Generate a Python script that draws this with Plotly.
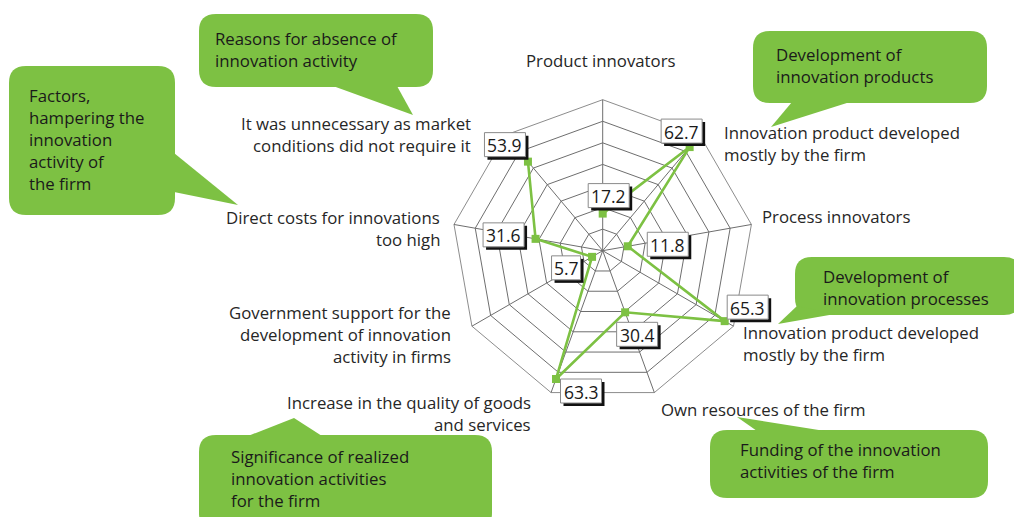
import plotly.graph_objects as go
import math

# ---------------- data ----------------
axis_labels = [
    "Product innovators",
    "Innovation product developed\nmostly by the firm",
    "Process innovators",
    "Innovation product developed\nmostly by the firm",
    "Own resources of the firm",
    "Increase in the quality of goods\nand services",
    "Government support for the\ndevelopment of innovation\nactivity in firms",
    "Direct costs for innovations\ntoo high",
    "It was unnecessary as market\nconditions did not require it",
]
values = [17.2, 62.7, 11.8, 65.3, 30.4, 63.3, 5.7, 31.6, 53.9]
radial_ticks = [10, 20, 30, 40, 50, 60, 70]
bubble_texts = [
    "Reasons for absence of\ninnovation activity",
    "Factors,\nhampering the\ninnovation\nactivity of\nthe firm",
    "Development of\ninnovation products",
    "Development of\ninnovation processes",
    "Funding of the innovation\nactivities of the firm",
    "Significance of realized\ninnovation activities\nfor the firm",
]

# ---------------- layout constants (page pixels) ----------------
PAGE_W, PAGE_H = 1022, 517
OFF = 8                      # default body margin of the html page
W, H = PAGE_W - OFF, PAGE_H - OFF
CX, CY, R = 602.7, 250.7, 151.0
RMAX = 70
GREEN = "#7DC143"
TXT = "#262626"
FONT = "Open Sans"
FS = 16.8
LH = 22

keys = [f"k{i}" for i in range(len(values))]
step = 360.0 / len(values)

fig = go.Figure()

# invisible helper trace for a pixel coordinate system
fig.add_trace(go.Scatter(x=[OFF, PAGE_W], y=[OFF, PAGE_H], mode="markers",
                         marker=dict(opacity=0), hoverinfo="skip",
                         showlegend=False))

fig.add_trace(go.Scatterpolar(
    r=values, theta=keys, mode="lines+markers",
    line=dict(color=GREEN, width=2.6),
    marker=dict(symbol="square", size=8, color=GREEN),
    showlegend=False, hoverinfo="skip",
))

shapes = []
annotations = []


def text_lines(text, x, y, anchor, size=FS, color=TXT):
    for j, line in enumerate(text.split("\n")):
        annotations.append(dict(
            x=x, y=y + j * LH, xref="x", yref="y", text=line,
            showarrow=False, xanchor=anchor, yanchor="middle",
            font=dict(family=FONT, size=size, color=color)))


# axis label placement (anchor pixel, alignment)
label_pos = [
    (601, 60, "center"),
    (722, 132, "left"),
    (760, 216, "left"),
    (741, 332, "left"),
    (659, 409, "left"),
    (533, 402, "right"),
    (453, 312, "right"),
    (442, 217, "right"),
    (473, 123, "right"),
]
for lab, (x, y, a) in zip(axis_labels, label_pos):
    text_lines(lab, x, y, a)

# value boxes, placed from the polar geometry plus a pixel offset
label_offsets = [(6, -18), (-8, -16), (40, -2), (23, -14), (12, 22),
                 (25, 12), (-26, 11), (-32, -4), (-23, -17)]
for i, v in enumerate(values):
    a = math.radians(i * step)
    rr = v / RMAX * R
    px = CX + rr * math.sin(a)
    py = CY - rr * math.cos(a)
    dx, dy = label_offsets[i]
    bx, by = px + dx, py + dy
    s = f"{v:.1f}"
    bw = 41 if len(s) > 3 else 29
    bh = 24
    shapes.append(dict(type="rect", xref="x", yref="y",
                       x0=bx - bw / 2 + 3, x1=bx + bw / 2 + 3,
                       y0=by - bh / 2 + 3, y1=by + bh / 2 + 3,
                       fillcolor="#111111", line=dict(width=0), layer="above"))
    shapes.append(dict(type="rect", xref="x", yref="y",
                       x0=bx - bw / 2, x1=bx + bw / 2,
                       y0=by - bh / 2, y1=by + bh / 2,
                       fillcolor="white", line=dict(color="#8a8a8a", width=1),
                       layer="above"))
    annotations.append(dict(x=bx, y=by + 0.5, xref="x", yref="y", text=s,
                            showarrow=False, xanchor="center", yanchor="middle",
                            font=dict(family=FONT, size=17.5, color="#1a1a1a")))


def rrect(x0, y0, x1, y1, r):
    return (f"M{x0 + r},{y0} L{x1 - r},{y0} Q{x1},{y0} {x1},{y0 + r} "
            f"L{x1},{y1 - r} Q{x1},{y1} {x1 - r},{y1} L{x0 + r},{y1} "
            f"Q{x0},{y1} {x0},{y1 - r} L{x0},{y0 + r} Q{x0},{y0} {x0 + r},{y0} Z")


bubbles = [
    ((199, 14, 433, 87), [(333, 86), (397, 86), (413, 115)], (213, 38)),
    ((9, 66, 175, 215), [(174, 153), (174, 192), (238, 205)], (27, 95)),
    ((753, 31, 987, 103), [(792, 102), (850, 102), (771, 127)], (774, 54)),
    ((795, 257, 1021, 315), [(778, 324), (797, 306), (835, 314)], (821, 276)),
    ((710, 430, 988, 498), [(757, 431), (825, 431), (737, 417)], (738, 449)),
    ((199, 435, 492, 530), [(248, 436), (322, 436), (294, 418)], (229, 456)),
]
for (box, tail, tpos), txt in zip(bubbles, bubble_texts):
    shapes.append(dict(type="path", xref="x", yref="y",
                       path=rrect(*box, 17), fillcolor=GREEN,
                       line=dict(width=0), layer="below"))
    tp = "M" + " L".join(f"{x},{y}" for x, y in tail) + " Z"
    shapes.append(dict(type="path", xref="x", yref="y", path=tp,
                       fillcolor=GREEN, line=dict(width=0), layer="below"))
    text_lines(txt, tpos[0], tpos[1], "left", color="#1a1a1a")

fig.update_layout(
    width=W, height=H,
    margin=dict(l=0, r=0, t=0, b=0),
    paper_bgcolor="white", plot_bgcolor="white",
    showlegend=False,
    xaxis=dict(range=[OFF, PAGE_W], visible=False, domain=[0, 1], fixedrange=True),
    yaxis=dict(range=[PAGE_H, OFF], visible=False, domain=[0, 1], fixedrange=True),
    polar=dict(
        domain=dict(x=[(CX - R - OFF) / W, (CX + R - OFF) / W],
                    y=[(PAGE_H - CY - R) / H, (PAGE_H - CY + R) / H]),
        bgcolor="rgba(0,0,0,0)",
        gridshape="linear",
        radialaxis=dict(range=[0, RMAX], tickvals=radial_ticks,
                        showticklabels=False, ticks="", showline=False,
                        gridcolor="#6e6e6e", gridwidth=0.8),
        angularaxis=dict(type="category", categoryorder="array",
                         categoryarray=keys, direction="clockwise",
                         rotation=90, showticklabels=False, ticks="",
                         showline=True, linecolor="#6e6e6e", linewidth=0.8,
                         gridcolor="#6e6e6e", gridwidth=0.8),
    ),
    shapes=shapes,
    annotations=annotations,
)

fig.write_html("out.html")
